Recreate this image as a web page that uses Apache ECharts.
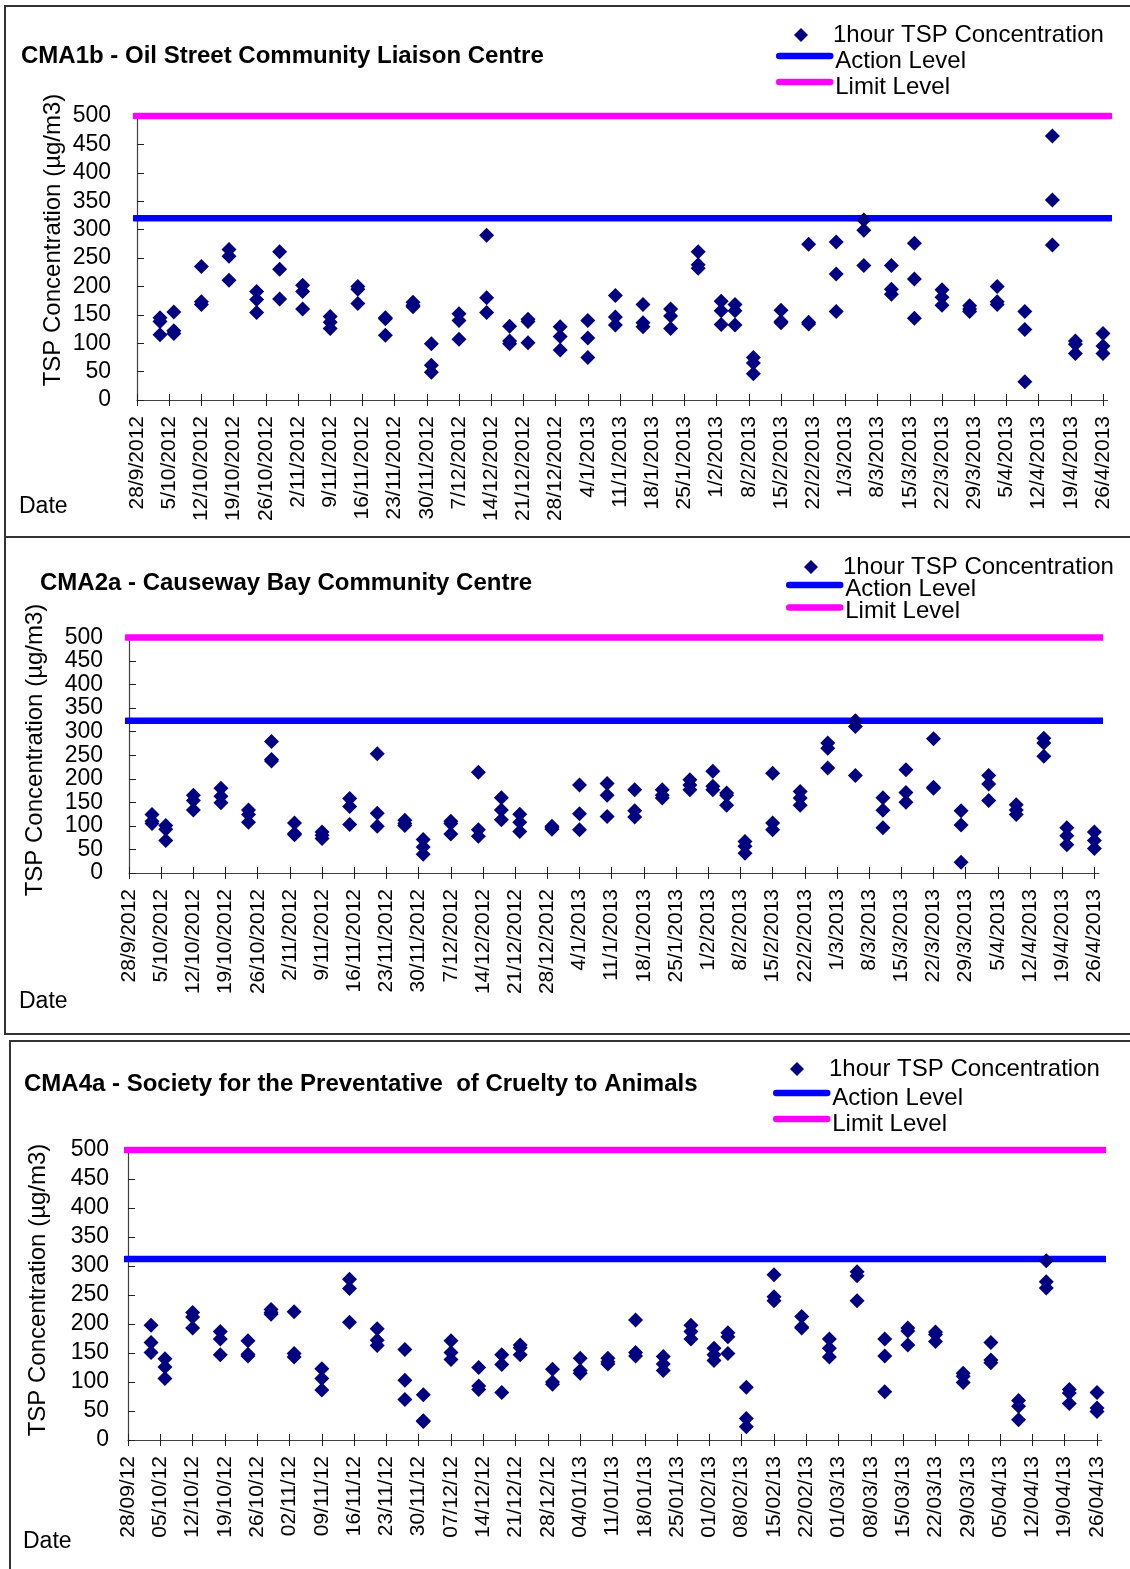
<!DOCTYPE html>
<html>
<head>
<meta charset="utf-8">
<script src="https://cdn.jsdelivr.net/npm/echarts@6/dist/echarts.min.js"></script>
<style>
  html, body { margin: 0; padding: 0; background: #fff; }
  #chart { width: 1130px; height: 1569px; }
</style>
</head>
<body>
<div id="chart"></div>
<script>
// ---------------- DATA ----------------
const sampleDates = [
  '3/10/2012','6/10/2012','12/10/2012','18/10/2012','24/10/2012','29/10/2012',
  '3/11/2012','9/11/2012','15/11/2012','21/11/2012','27/11/2012','1/12/2012',
  '7/12/2012','13/12/2012','18/12/2012','22/12/2012','29/12/2012','4/1/2013',
  '10/1/2013','16/1/2013','22/1/2013','28/1/2013','2/2/2013','5/2/2013',
  '9/2/2013','15/2/2013','21/2/2013','27/2/2013','5/3/2013','11/3/2013',
  '16/3/2013','22/3/2013','28/3/2013','3/4/2013','9/4/2013','15/4/2013',
  '20/4/2013','26/4/2013'
];

const cma1bReadings = [
  [145,138,115],[155,122,117],[235,173,168],[265,253,211],[191,177,154],[261,230,178],
  [202,191,160],[147,137,126],[200,195,170],[145,143,114],[172,167,164],[99,61,49],
  [152,140,107],[290,180,154],[130,104,99],[142,138,101],[129,112,88],[140,109,75],
  [184,146,132],[168,136,129],[160,148,126],[261,238,232],[174,157,133],[168,157,132],
  [75,65,46],[158,138,136],[274,137,134],[278,222,156],[317,299,237],[237,195,186],
  [276,213,144],[194,181,167],[166,160,156],[200,173,168],[156,124,32],[465,352,273],
  [104,98,82],[117,95,82]
];

const cma2aReadings = [
  [124,110,105],[101,93,69],[165,154,134],[180,163,149],[134,124,108],[279,241,238],
  [106,84,81],[87,80,73],[158,141,103],[253,127,99],[112,105,101],[71,55,40],
  [110,105,83],[214,92,78],[160,134,113],[125,108,88],[99,96,93],[187,126,92],
  [190,165,120],[177,132,119],[177,165,159],[198,187,177],[216,184,177],[170,165,144],
  [67,57,42],[212,106,92],[173,159,144],[276,265,223],[323,311,207],[160,133,96],
  [219,171,150],[285,182,180],[132,102,23],[207,189,154],[145,134,124],[286,276,248],
  [96,79,60],[87,69,52]
];

const cma4aReadings = [
  [198,168,151],[140,126,106],[220,212,193],[187,174,147],[171,148,145],[225,220,217],
  [221,149,143],[123,106,86],[277,261,203],[192,172,163],[156,103,70],[78,33,32],
  [171,151,139],[125,93,87],[147,130,82],[164,159,147],[122,100,96],[141,120,115],
  [141,135,131],[207,151,145],[144,131,120],[198,187,174],[158,147,137],[185,178,149],
  [91,37,23],[285,247,240],[213,195,193],[174,158,143],[290,283,240],[174,145,83],
  [193,188,164],[186,182,170],[115,110,99],[168,138,133],[68,58,35],[309,273,262],
  [87,81,63],[82,55,49]
];

const actionLevels = [320, 323, 312];
const limitLevels = [500, 500, 500];

const tickLabelsLong = [
  '28/9/2012','5/10/2012','12/10/2012','19/10/2012','26/10/2012','2/11/2012',
  '9/11/2012','16/11/2012','23/11/2012','30/11/2012','7/12/2012','14/12/2012',
  '21/12/2012','28/12/2012','4/1/2013','11/1/2013','18/1/2013','25/1/2013',
  '1/2/2013','8/2/2013','15/2/2013','22/2/2013','1/3/2013','8/3/2013',
  '15/3/2013','22/3/2013','29/3/2013','5/4/2013','12/4/2013','19/4/2013','26/4/2013'
];
const tickLabelsShort = [
  '28/09/12','05/10/12','12/10/12','19/10/12','26/10/12','02/11/12',
  '09/11/12','16/11/12','23/11/12','30/11/12','07/12/12','14/12/12',
  '21/12/12','28/12/12','04/01/13','11/01/13','18/01/13','25/01/13',
  '01/02/13','08/02/13','15/02/13','22/02/13','01/03/13','08/03/13',
  '15/03/13','22/03/13','29/03/13','05/04/13','12/04/13','19/04/13','26/04/13'
];

const panelTitles = [
  'CMA1b - Oil Street Community Liaison Centre',
  'CMA2a - Causeway Bay Community Centre',
  'CMA4a - Society for the Preventative  of Cruelty to Animals'
];
const seriesNames = ['1hour TSP Concentration', 'Action Level', 'Limit Level'];
const yAxisTitle = 'TSP Concentration (\u00b5g/m3)';
const xAxisTitle = 'Date';

// ---------------- LAYOUT / STYLE ----------------
const FONT = 'Liberation Sans, Arial, sans-serif';
const X_MIN = 0, X_MAX = 211;          // days after 28/9/2012
const LEVEL_SPAN = [-0.6, 211.7];
const layout = [
  { grid: { left: 137, top: 116, width: 970.6, height: 284 }, ticks: tickLabelsLong, yMargin: 26,
    title: { left: 21, top: 44 }, legA: { left: 794, top: 23 },
    legB: { left: 776, top: 39, pad: 10, gap: -8 },
    yName: { x: 53, y: 240 }, dateLbl: { x: 19, y: 507 },
    border: { x: 5, y: 6, width: 1135, height: 531 } },
  { grid: { left: 129, top: 637.5, width: 970, height: 235.5 }, ticks: tickLabelsLong, yMargin: 26,
    title: { left: 40, top: 571 }, legA: { left: 804, top: 555 },
    legB: { left: 786, top: 569, pad: 8, gap: -9.5 },
    yName: { x: 35, y: 750 }, dateLbl: { x: 19, y: 1002 },
    border: { x: 5, y: 537, width: 1135, height: 497 } },
  { grid: { left: 128, top: 1150, width: 973.6, height: 290 }, ticks: tickLabelsShort, yMargin: 19,
    title: { left: 24, top: 1072 }, legA: { left: 790, top: 1057 },
    legB: { left: 773, top: 1076, pad: 10, gap: -8 },
    yName: { x: 38, y: 1290 }, dateLbl: { x: 23, y: 1542 },
    border: { x: 10, y: 1041, width: 1130, height: 540 } }
];

// ---------------- HELPERS ----------------
const START = Date.UTC(2012, 8, 28);
function dayOf(str) {
  const p = str.split('/').map(Number);
  let y = p[2]; if (y < 100) y += 2000;
  return (Date.UTC(y, p[1] - 1, p[0]) - START) / 86400000;
}
function scatterData(readings) {
  const out = [];
  readings.forEach((vals, i) => {
    const d = dayOf(sampleDates[i]);
    vals.forEach(v => out.push([d, v]));
  });
  return out;
}

const allReadings = [cma1bReadings, cma2aReadings, cma4aReadings];

const option = {
  animation: false,
  backgroundColor: '#ffffff',
  textStyle: { fontFamily: FONT },
  title: [], legend: [], grid: [], xAxis: [], yAxis: [], series: [], graphic: []
};

layout.forEach((L, p) => {
  const tickVals = L.ticks.map(dayOf);
  const labelMap = {};
  tickVals.forEach((v, i) => { labelMap[v] = L.ticks[i]; });

  option.grid.push(Object.assign({ containLabel: false }, L.grid));

  option.title.push({
    text: panelTitles[p], left: L.title.left, top: L.title.top, padding: 0,
    textStyle: { fontFamily: FONT, fontWeight: 'bold', fontSize: 24, color: '#000' }
  });

  option.legend.push({
    orient: 'vertical', left: L.legA.left, top: L.legA.top, padding: 0,
    itemWidth: 14, itemHeight: 14, itemGap: 0, selectedMode: false,
    data: [{ name: seriesNames[0], icon: 'diamond' }],
    textStyle: { fontFamily: FONT, fontSize: 24, color: '#000', padding: [0, 0, 0, 20] }
  });
  option.legend.push({
    orient: 'vertical', left: L.legB.left, top: L.legB.top, padding: 0,
    itemWidth: 51, itemHeight: 6, itemGap: L.legB.gap, selectedMode: false,
    data: [seriesNames[1], seriesNames[2]],
    lineStyle: { width: 6.5, cap: 'round' },
    formatter: '{t|{name}}',
    textStyle: {
      fontFamily: FONT, fontSize: 24, color: '#000',
      rich: { t: { fontFamily: FONT, fontSize: 24, color: '#000',
        lineHeight: 24, padding: [L.legB.pad, 0, 0, 0] } }
    }
  });

  // main x axis
  option.xAxis.push({
    type: 'value', gridIndex: p, min: X_MIN, max: X_MAX,
    axisLine: { show: true, lineStyle: { color: '#404040', width: 1.2 } },
    axisTick: { show: true, inside: false, length: 6, customValues: tickVals,
      lineStyle: { color: '#202020', width: 1 } },
    axisLabel: { show: true, rotate: 90, margin: 16, customValues: tickVals,
      fontFamily: FONT, fontSize: 21, color: '#000',
      formatter: v => labelMap[v] !== undefined ? labelMap[v] : '' },
    splitLine: { show: false }
  });
  // second x axis: inward half of the crossing ticks
  option.xAxis.push({
    type: 'value', gridIndex: p, min: X_MIN, max: X_MAX, position: 'bottom',
    axisLine: { show: false },
    axisTick: { show: true, inside: true, length: 6, customValues: tickVals,
      lineStyle: { color: '#202020', width: 1 } },
    axisLabel: { show: false },
    splitLine: { show: false }
  });

  option.yAxis.push({
    type: 'value', gridIndex: p, min: 0, max: 500, interval: 50,
    axisLine: { show: true, lineStyle: { color: '#404040', width: 1.2 } },
    axisTick: { show: true, inside: true, length: 7, lineStyle: { color: '#202020' } },
    axisLabel: { fontFamily: FONT, fontSize: 23, color: '#000', margin: L.yMargin },
    splitLine: { show: false }
  });

  const xi = p * 2;
  option.series.push({
    name: seriesNames[1], type: 'line', xAxisIndex: xi, yAxisIndex: p,
    data: LEVEL_SPAN.map(x => [x, actionLevels[p]]),
    symbol: 'none', clip: false, silent: true, z: 2,
    itemStyle: { color: '#0000FF' },
    lineStyle: { color: '#0000FF', width: 6.5, cap: 'round' }
  });
  option.series.push({
    name: seriesNames[2], type: 'line', xAxisIndex: xi, yAxisIndex: p,
    data: LEVEL_SPAN.map(x => [x, limitLevels[p]]),
    symbol: 'none', clip: false, silent: true, z: 2,
    itemStyle: { color: '#FF00FF' },
    lineStyle: { color: '#FF00FF', width: 6.5, cap: 'round' }
  });
  option.series.push({
    name: seriesNames[0], type: 'scatter', xAxisIndex: xi, yAxisIndex: p,
    data: scatterData(allReadings[p]),
    symbol: 'diamond', symbolSize: 15, z: 3,
    itemStyle: { color: '#000080', opacity: 1 }
  });

  option.graphic.push({
    type: 'rect', silent: true, z: 0,
    shape: { x: L.border.x, y: L.border.y, width: L.border.width, height: L.border.height },
    style: { fill: 'none', stroke: '#333', lineWidth: 2 }
  });
  option.graphic.push({
    type: 'text', silent: true, x: L.yName.x, y: L.yName.y, rotation: Math.PI / 2,
    style: { text: yAxisTitle, fontFamily: FONT, fontSize: 24, fill: '#000',
      align: 'center', verticalAlign: 'middle' }
  });
  option.graphic.push({
    type: 'text', silent: true, x: L.dateLbl.x, y: L.dateLbl.y,
    style: { text: xAxisTitle, fontFamily: FONT, fontSize: 23, fill: '#000',
      align: 'left', verticalAlign: 'middle' }
  });
});

const chart = echarts.init(document.getElementById('chart'), null, { renderer: 'canvas' });
chart.setOption(option);
</script>
</body>
</html>
